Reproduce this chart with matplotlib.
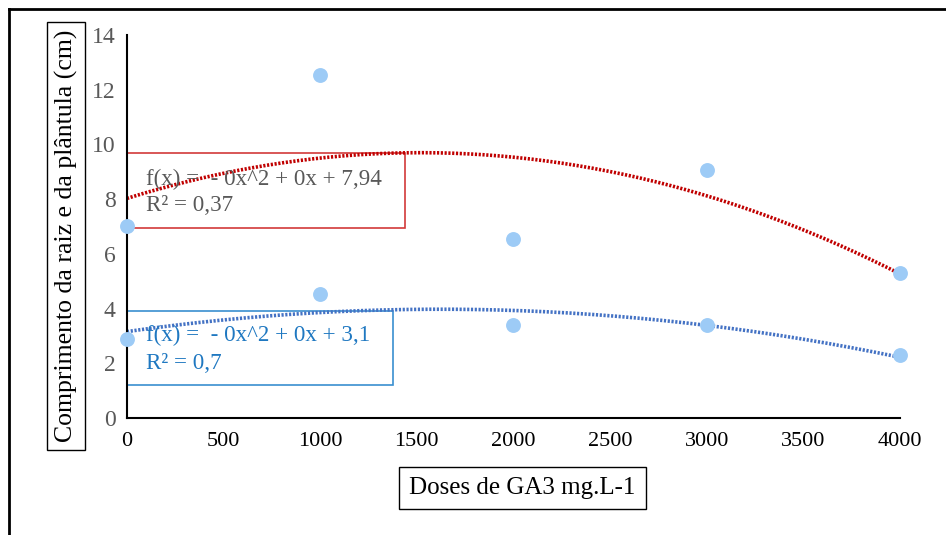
import matplotlib.pyplot as plt
import numpy as np
from matplotlib.patches import Rectangle
from matplotlib.lines import Line2D

plt.rcParams['font.family'] = ['Liberation Serif', 'DejaVu Serif']

doses = [0, 1000, 2000, 3000, 4000]
raiz_plantula = [7.0, 12.55, 6.55, 9.05, 5.3]
raiz = [2.9, 4.55, 3.4, 3.4, 2.3]
eq_upper = ["f(x) =  - 0x^2 + 0x + 7,94", "R² = 0,37"]
eq_lower = ["f(x) =  - 0x^2 + 0x + 3,1", "R² = 0,7"]

fig = plt.figure(figsize=(9.46, 5.35), dpi=100)
ax = fig.add_axes([0.1342, 0.2187, 0.8172, 0.7159])

pt_color = "#9dcbf6"
ax.scatter(doses, raiz_plantula, s=115, color=pt_color, zorder=3, clip_on=False, linewidths=0)
ax.scatter(doses, raiz, s=115, color=pt_color, zorder=3, clip_on=False, linewidths=0)

xs = np.linspace(0, 4000, 200)
for ys, col in [(raiz_plantula, "#c00000"), (raiz, "#4472c4")]:
    coef = np.polyfit(doses, ys, 2)
    ax.plot(xs, np.polyval(coef, xs), color=col, lw=2.6, ls=(0, (0.6, 0.45)), zorder=2)

ax.set_xlim(0, 4000)
ax.set_ylim(0, 14)
ax.set_xticks(range(0, 4001, 500))
ax.set_yticks(range(0, 15, 2))
ax.tick_params(length=0)
ax.tick_params(axis="x", labelsize=16, pad=10, labelcolor="black")
ax.tick_params(axis="y", labelsize=17, pad=8, labelcolor="#595959")
for s in ["top", "right"]:
    ax.spines[s].set_visible(False)
for s in ["left", "bottom"]:
    ax.spines[s].set_linewidth(1.5)
    ax.spines[s].set_color("black")

# equation boxes
ax.add_patch(Rectangle((0, 0.496), 0.3596, 0.196, transform=ax.transAxes,
                       fill=False, ec="#d23a3a", lw=1.2, zorder=1))
ax.add_patch(Rectangle((0, 0.086), 0.344, 0.193, transform=ax.transAxes,
                       fill=False, ec="#3a8fd0", lw=1.2, zorder=1))
ax.text(0.0246, 0.622, eq_upper[0], transform=ax.transAxes, fontsize=16.6,
        color="#595959", va="center")
ax.text(0.0246, 0.556, eq_upper[1], transform=ax.transAxes, fontsize=16.6,
        color="#595959", va="center")
ax.text(0.0246, 0.216, eq_lower[0], transform=ax.transAxes, fontsize=16.6,
        color="#1f78c1", va="center")
ax.text(0.0246, 0.143, eq_lower[1], transform=ax.transAxes, fontsize=16.6,
        color="#1f78c1", va="center")

# axis titles in boxes
fig.text(0.0698, 0.559, "Comprimento da raiz e da plântula (cm)", rotation=90,
         fontsize=18.5, ha="center", va="center",
         bbox=dict(boxstyle="square,pad=0.3", fc="white", ec="black", lw=1))
fig.text(0.5523, 0.0879, "Doses de GA3 mg.L-1", fontsize=18, ha="center", va="center",
         bbox=dict(boxstyle="square,pad=0.4", fc="white", ec="black", lw=1))

# outer frame lines
fig.add_artist(Line2D([0.0095, 1.0], [0.983, 0.983], color="black", lw=2))
fig.add_artist(Line2D([0.0095, 0.0095], [0.0, 0.983], color="black", lw=2))

fig.savefig("out.png", dpi=100)
